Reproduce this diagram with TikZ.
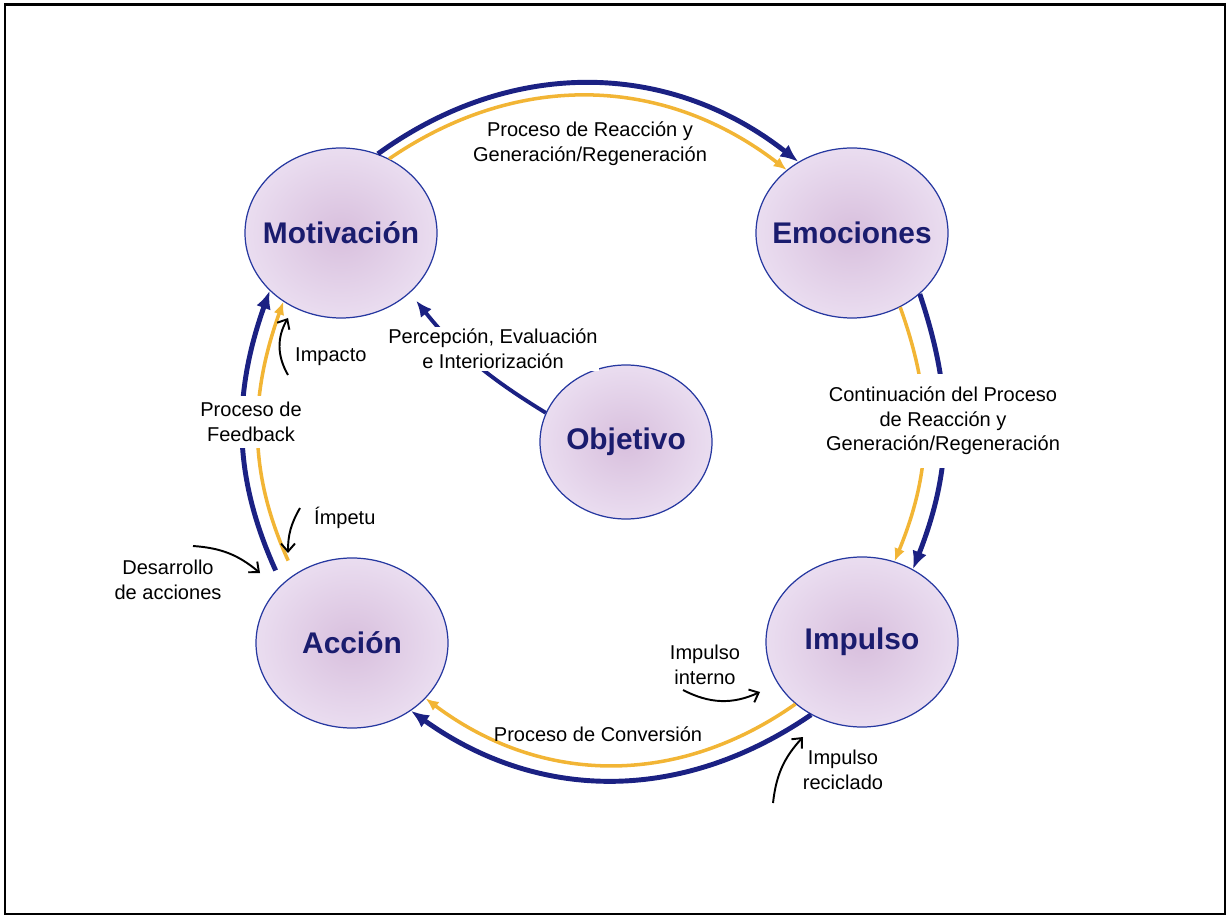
\documentclass[tikz,border=0pt]{standalone}
\usepackage{fontspec}
\setmainfont{Liberation Sans}
\usetikzlibrary{shapes.geometric, arrows.meta}

\definecolor{navy}{HTML}{1B2183}
\definecolor{ring}{HTML}{2638A0}
\definecolor{amber}{HTML}{F2B535}
\definecolor{lilacin}{HTML}{D8BFDD}
\definecolor{lilacout}{HTML}{EADDF0}
\definecolor{labelblue}{HTML}{1A1C6E}

\tikzset{
  stage/.style={ellipse, draw=ring, line width=0.7pt, inner color=lilacin, outer color=lilacout,
    inner sep=0pt, minimum width=3.84cm, minimum height=3.4cm},
  goal/.style={stage, minimum width=3.44cm, minimum height=3.08cm},
  stagetext/.style={text=labelblue, font=\fontsize{17}{20}\selectfont\bfseries},
  bluearc/.style={draw=navy, line width=2.8pt, -{Latex[length=3.6mm, width=3mm]}},
  goldarc/.style={draw=amber, line width=2pt, -{Latex[length=2.6mm, width=2.2mm]}},
  note/.style={font=\fontsize{11.4}{14}\selectfont, align=center},
  nudge/.style={draw=black, line width=1.1pt, -{Straight Barb[length=1.6mm, width=2.8mm]}},
}

\begin{document}
\begin{tikzpicture}
    \useasboundingbox (0,0) rectangle (24.56,18.32);
    % outer frame
    \draw[line width=1.4pt] (0.1,0.04) rectangle (24.5,18.23);

    % the five stages
    \node[stage, label={[stagetext]center:Motivación}] (mot) at (6.82,13.66) {};
    \node[stage, label={[stagetext]center:Emociones}]  (emo) at (17.04,13.66) {};
    \node[goal,  label={[stagetext]center:Objetivo}]   (obj) at (12.52,9.48) {};
    \node[stage, label={[stagetext]center:Acción}]     (acc) at (7.04,5.46) {};
    \node[stage, label={[stagetext]center:Impulso}]    (imp) at (17.24,5.48) {};

    % top: Motivacion -> Emociones
    \draw[bluearc] (mot.65) to[bend left=37] (emo.127);
    \draw[goldarc] (mot.57) to[bend left=36] (emo.136);
    \node[note] (reacLbl) at (11.8,15.44) {Proceso de Reacción y\\Generación/Regeneración};

    % right: Emociones -> Impulso
    \draw[bluearc] (emo.318) to[bend left=20] (imp.55);
    \draw[goldarc] (emo.303) to[bend left=21] (imp.68);
    \node[note, fill=white, inner xsep=2pt, inner ysep=0.26cm] (contLbl) at (18.86,9.9)
        {Continuación del Proceso\\de Reacción y\\Generación/Regeneración};

    % bottom: Impulso -> Accion
    \draw[bluearc] (imp.235) to[bend left=35] (acc.311);
    \draw[goldarc] (imp.223) to[bend left=36] (acc.323);
    \node[note] (convLbl) at (11.96,3.64) {Proceso de Conversión};

    % left: Accion -> Motivacion
    \draw[bluearc, shorten <=0.3cm] (acc.140) to[bend left=22] (mot.219);
    \draw[goldarc, shorten <=0.3cm] (acc.130) to[bend left=22] (mot.230);
    \node[note, fill=white, inner xsep=2pt, inner ysep=0.12cm] (feedLbl) at (5.02,9.88)
        {Proceso de\\Feedback};

    % Objetivo -> Motivacion
    \draw[draw=navy, line width=2.2pt, -{Latex[length=3.2mm, width=2.8mm]}, shorten >=0.2cm]
        (obj.160) to[bend left=10] (mot.319);
    \node[note, fill=white, inner sep=1pt] (percLbl) at (9.86,11.34)
        {Percepción, Evaluación\\e Interiorización};

    % small black pointers
    \coordinate (impactoA) at (5.76,10.82);
    \coordinate (impactoB) at (5.76,11.96);
    \draw[nudge] (impactoA) to[bend left=30] (impactoB);
    \node[note, anchor=west] (impactoLbl) at (5.78,11.18) {Impacto};

    \coordinate (impetuA) at (6.0,8.16);
    \coordinate (impetuB) at (5.76,7.26);
    \draw[nudge] (impetuA) to[bend right=15] (impetuB);
    \node[note, anchor=west] (impetuLbl) at (6.16,7.96) {Ímpetu};

    \coordinate (desaA) at (3.86,7.4);
    \coordinate (desaB) at (5.2,6.86);
    \draw[nudge] (desaA) to[bend left=18] (desaB);
    \node[note] (desaLbl) at (3.36,6.72) {Desarrollo\\de acciones};

    \coordinate (internoA) at (13.66,4.52);
    \coordinate (internoB) at (15.2,4.48);
    \draw[nudge] (internoA) to[bend right=26] (internoB);
    \node[note] (internoLbl) at (14.1,5.02) {Impulso\\interno};

    \coordinate (recicA) at (15.46,2.26);
    \coordinate (recicB) at (16.06,3.58);
    \draw[nudge] (recicA) to[bend left=18] (recicB);
    \node[note] (recicLbl) at (16.86,2.92) {Impulso\\reciclado};
\end{tikzpicture}
\end{document}
